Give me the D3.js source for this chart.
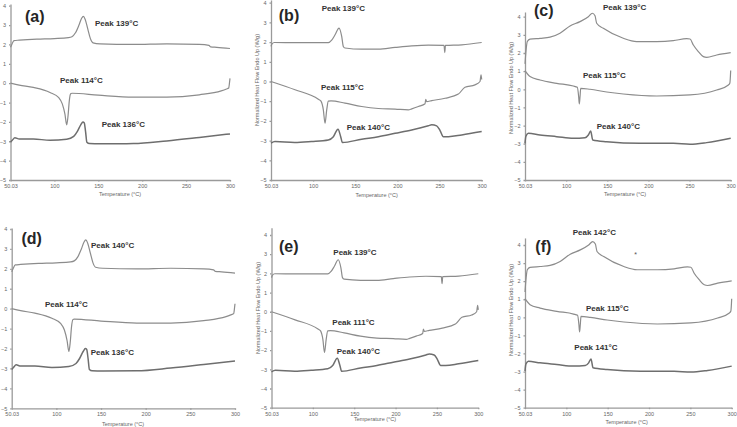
<!DOCTYPE html>
<html>
<head>
<meta charset="utf-8">
<script src="https://cdn.jsdelivr.net/npm/d3@7"></script>
<style>
  body { margin: 0; background: #fff; }
  svg { display: block; }
  .axis path, .axis line { stroke: #9a9a9a; stroke-width: 1.3; }
  .axis text { font-family: "Liberation Sans", Arial, sans-serif; font-size: 5.5px; fill: #666; }
  .atitle { font-family: "Liberation Sans", Arial, sans-serif; font-size: 5.5px; fill: #666; }
  .peak { font-family: "Liberation Sans Narrow", "Arial Narrow", "Liberation Sans", sans-serif; font-size: 8px; font-weight: bold; fill: #333; }
  .letter { font-family: "Liberation Sans", Arial, sans-serif; font-size: 16px; font-weight: bold; fill: #262626; }
</style>
</head>
<body>
<div id="chart"></div>
<script>
// tick labels
const tickValuesX = [50, 100, 150, 200, 250, 300];
const tickLabelsX = ['50.03', '100', '150', '200', '250', '300'];
const tickValuesY = [-5, -4, -3, -2, -1, 0, 1, 2, 3, 4];

// DSC traces, [temperature °C, heat flow W/g]
// set 1 : panels (a) and (d)
const s1Heat = [[50,1.85],[51.5,2.0],[54,2.2],[60,2.22],[80,2.27],[100,2.3],[116,2.35],[120,2.4],[124,2.6],[128,3.0],[131,3.35],[133,3.45],[135,3.3],[138,2.8],[141,2.3],[144,2.08],[152,2.03],[190,2.0],[228,2.03],[265,2.0],[276,1.95],[278,1.87],[285,1.85],[300,1.79]];
const s1Cool = [[50,0],[60,-0.1],[76,-0.22],[95,-0.48],[105,-0.75],[109,-1.07],[112,-1.6],[114,-2.15],[115.5,-1.7],[117,-0.9],[118.5,-0.55],[120,-0.52],[150,-0.62],[190,-0.72],[228,-0.72],[265,-0.6],[290,-0.4],[296,-0.3],[298.5,-0.25],[299.5,0.05],[300,0.25]];
const s1Reheat = [[50,-3.05],[52,-2.95],[55,-2.82],[60,-2.88],[76,-2.88],[95,-2.95],[114,-2.9],[122,-2.75],[126,-2.5],[130,-2.15],[132.5,-2.0],[134,-2.05],[135.5,-2.5],[137,-3.05],[140,-3.12],[152,-3.13],[190,-3.12],[228,-2.98],[265,-2.8],[300,-2.62]];

// set 2 : panels (b) and (e)
const s2Heat = [[50,1.78],[51,1.9],[54,1.98],[80,1.97],[118,1.97],[122,2.1],[126,2.37],[130.7,2.71],[133.9,2.29],[135.8,1.78],[137.8,1.7],[157.6,1.64],[177.4,1.64],[197.2,1.73],[217,1.81],[236.7,1.85],[255.3,1.83],[256.2,1.47],[257,1.83],[276.3,1.86],[300,1.98]];
const s2Cool = [[50,0],[78.5,-0.42],[106.2,-0.9],[109.3,-1.0],[112.1,-1.44],[114.1,-2.12],[116.1,-1.44],[118,-1.0],[121.2,-0.98],[137.8,-1.1],[157.6,-1.27],[177.4,-1.37],[197.2,-1.4],[213,-1.44],[217,-1.39],[224.9,-1.27],[232.8,-1.13],[233.6,-0.9],[234.7,-1.02],[240.7,-0.97],[256.5,-0.85],[272.3,-0.64],[280.2,-0.29],[292,-0.17],[298,0],[299.2,0.34],[300,0.1]];
const s2Reheat = [[50,-3.13],[54.7,-3.05],[78,-3.1],[98,-3.05],[118,-2.97],[124,-2.8],[129.5,-2.42],[132.7,-2.8],[134.7,-3.1],[157.6,-2.93],[177.4,-2.8],[197.2,-2.63],[217,-2.46],[236.7,-2.25],[240.7,-2.2],[246.6,-2.25],[250.6,-2.49],[254.5,-2.8],[260.5,-2.8],[276.3,-2.71],[300,-2.54]];

// set 3 : panels (c) and (f)
const s3Heat = [[50,1.4],[51,2.0],[52.8,2.63],[56.1,2.76],[68.2,2.81],[80.4,2.87],[92.5,3.09],[104.7,3.49],[116.9,3.73],[127,4.0],[131.9,4.19],[135.1,4.05],[137.1,3.64],[145.2,3.36],[169.5,2.81],[185.7,2.63],[210,2.63],[230.3,2.68],[246.5,2.79],[250.6,2.77],[254.6,2.44],[260.7,2.08],[266.8,1.8],[270.8,1.76],[283,1.89],[300,2.02]];
const s3Cool = [[50,1.03],[56.1,0.7],[68.2,0.51],[88.5,0.33],[108.8,0.18],[113.6,0.11],[115.2,-0.4],[116,-0.81],[116.9,-0.4],[117.7,0.05],[129,0],[149.3,-0.15],[169.5,-0.26],[210,-0.37],[250.6,-0.31],[283,-0.04],[297.2,0.24],[299,0.35],[300,1.03]];
const s3Reheat = [[50,-2.98],[51,-2.6],[54,-2.43],[68.2,-2.52],[88.5,-2.61],[108.8,-2.7],[122.9,-2.67],[127,-2.52],[129.8,-2.3],[132.3,-2.79],[149.3,-2.89],[189.8,-2.98],[230.3,-2.98],[250.6,-3.03],[270.8,-2.94],[300,-2.7]];

const panelLetters = ['(a)', '(b)', '(c)', '(d)', '(e)', '(f)'];
const peakLabels = [
  ['Peak 139°C', 'Peak 114°C', 'Peak 136°C'],
  ['Peak 139°C', 'Peak 115°C', 'Peak 140°C'],
  ['Peak 139°C', 'Peak 115°C', 'Peak 140°C'],
  ['Peak 140°C', 'Peak 114°C', 'Peak 136°C'],
  ['Peak 139°C', 'Peak 111°C', 'Peak 140°C'],
  ['Peak 142°C', 'Peak 115°C', 'Peak 141°C']
];
const xTitle = 'Temperature (°C)';
const yTitle = 'Normalized Heat Flow Endo Up (W/g)';

const width = 737, height = 427;

// placement of each panel on the page
const panels = [
  {traces: [s1Heat, s1Cool, s1Reheat], x0: 10.5, x1: 230, yb: 180, y4: 5.7, top: 4.09,
   letter: [34.7, 16.7], peaks: [[95, 25.5], [60, 82.8], [101.7, 126.8]], xt: [120, 196], yt: null},
  {traces: [s2Heat, s2Cool, s2Reheat], x0: 271, x1: 481.7, yb: 180, y4: 2.7, top: 4.14,
   letter: [289, 15], peaks: [[321.7, 11], [321, 89.8], [346.7, 130]], xt: [376.7, 197], yt: [256.7, 80]},
  {traces: [s3Heat, s3Cool, s3Reheat], x0: 525, x1: 730.7, yb: 180, y4: 16.7, top: 4.26,
   letter: [543.7, 10], peaks: [[603, 9.5], [583, 77.8], [596.7, 128.8]], xt: [625, 196], yt: [510.7, 88]},
  {traces: [s1Heat, s1Cool, s1Reheat], x0: 11.7, x1: 235, yb: 408.3, y4: 229, top: 4.05,
   letter: [31.7, 238.3], peaks: [[91, 247.8], [45, 307], [90.7, 354.5]], xt: [123, 426], yt: null},
  {traces: [s2Heat, s2Cool, s2Reheat], x0: 271.5, x1: 478.3, yb: 407.7, y4: 235, top: 4.38,
   letter: [288.7, 246.7], peaks: [[333.3, 255], [332.3, 324.5], [336.7, 353.8]], xt: [375, 421], yt: [257.7, 308]},
  {traces: [s3Heat, s3Cool, s3Reheat], x0: 525, x1: 731.7, yb: 407.7, y4: 245, top: 4.39,
   letter: [543.3, 246.7], peaks: [[572.7, 234.5], [586, 311], [574.3, 349.5]], xt: [626.7, 424], yt: [510.7, 310]}
];

const svg = d3.select('#chart')
  .append('svg')
  .attr('width', width)
  .attr('height', height);

panels.forEach((p, i) => {
  const u = (p.yb - p.y4) / 9;
  const x = d3.scaleLinear().domain([50, 300]).range([p.x0, p.x1]);
  const y = d3.scaleLinear().domain([-5, p.top]).range([p.yb, p.yb - (p.top + 5) * u]);
  const g = svg.append('g');

  // axes
  g.append('g')
    .attr('class', 'axis')
    .attr('transform', `translate(0,${p.yb})`)
    .call(d3.axisBottom(x).tickValues(tickValuesX)
      .tickFormat((d, k) => tickLabelsX[k]).tickSizeInner(1.5).tickSizeOuter(0).tickPadding(2.5));
  g.append('g')
    .attr('class', 'axis')
    .attr('transform', `translate(${p.x0},0)`)
    .call(d3.axisLeft(y).tickValues(tickValuesY).tickSizeInner(1.5).tickSizeOuter(0).tickPadding(3));

  g.append('text')
    .attr('class', 'atitle')
    .attr('x', p.xt[0])
    .attr('y', p.xt[1])
    .attr('text-anchor', 'middle')
    .text(xTitle);
  if (p.yt) {
    g.append('text')
      .attr('class', 'atitle')
      .attr('transform', `translate(${p.yt[0]},${p.yt[1]}) rotate(-90)`)
      .attr('text-anchor', 'middle')
      .attr('dy', '0.35em')
      .text(yTitle);
  }

  // traces
  const line = d3.line()
    .x(d => x(d[0]))
    .y(d => y(d[1]))
    .curve(d3.curveMonotoneX);
  g.selectAll('path.trace')
    .data(p.traces)
    .enter()
    .append('path')
    .attr('class', 'trace')
    .attr('d', line)
    .attr('fill', 'none')
    .attr('stroke', (d, k) => k === 2 ? '#6e6e6e' : '#8c8c8c')
    .attr('stroke-width', (d, k) => k === 2 ? 1.5 : 1.2)
    .attr('stroke-linejoin', 'round');

  // labels
  g.selectAll('text.peak')
    .data(peakLabels[i])
    .enter()
    .append('text')
    .attr('class', 'peak')
    .attr('x', (d, k) => p.peaks[k][0])
    .attr('y', (d, k) => p.peaks[k][1])
    .text(d => d);

  g.append('text')
    .attr('class', 'letter')
    .attr('x', p.letter[0])
    .attr('y', p.letter[1])
    .attr('text-anchor', 'middle')
    .attr('dy', '0.35em')
    .text(panelLetters[i]);
});

// stray mark in panel (f)
svg.append('text')
  .attr('x', 635.7)
  .attr('y', 257)
  .attr('text-anchor', 'middle')
  .style('font-family', 'Liberation Sans, sans-serif')
  .style('font-size', '7px')
  .style('fill', '#555')
  .text('*');
</script>
</body>
</html>
